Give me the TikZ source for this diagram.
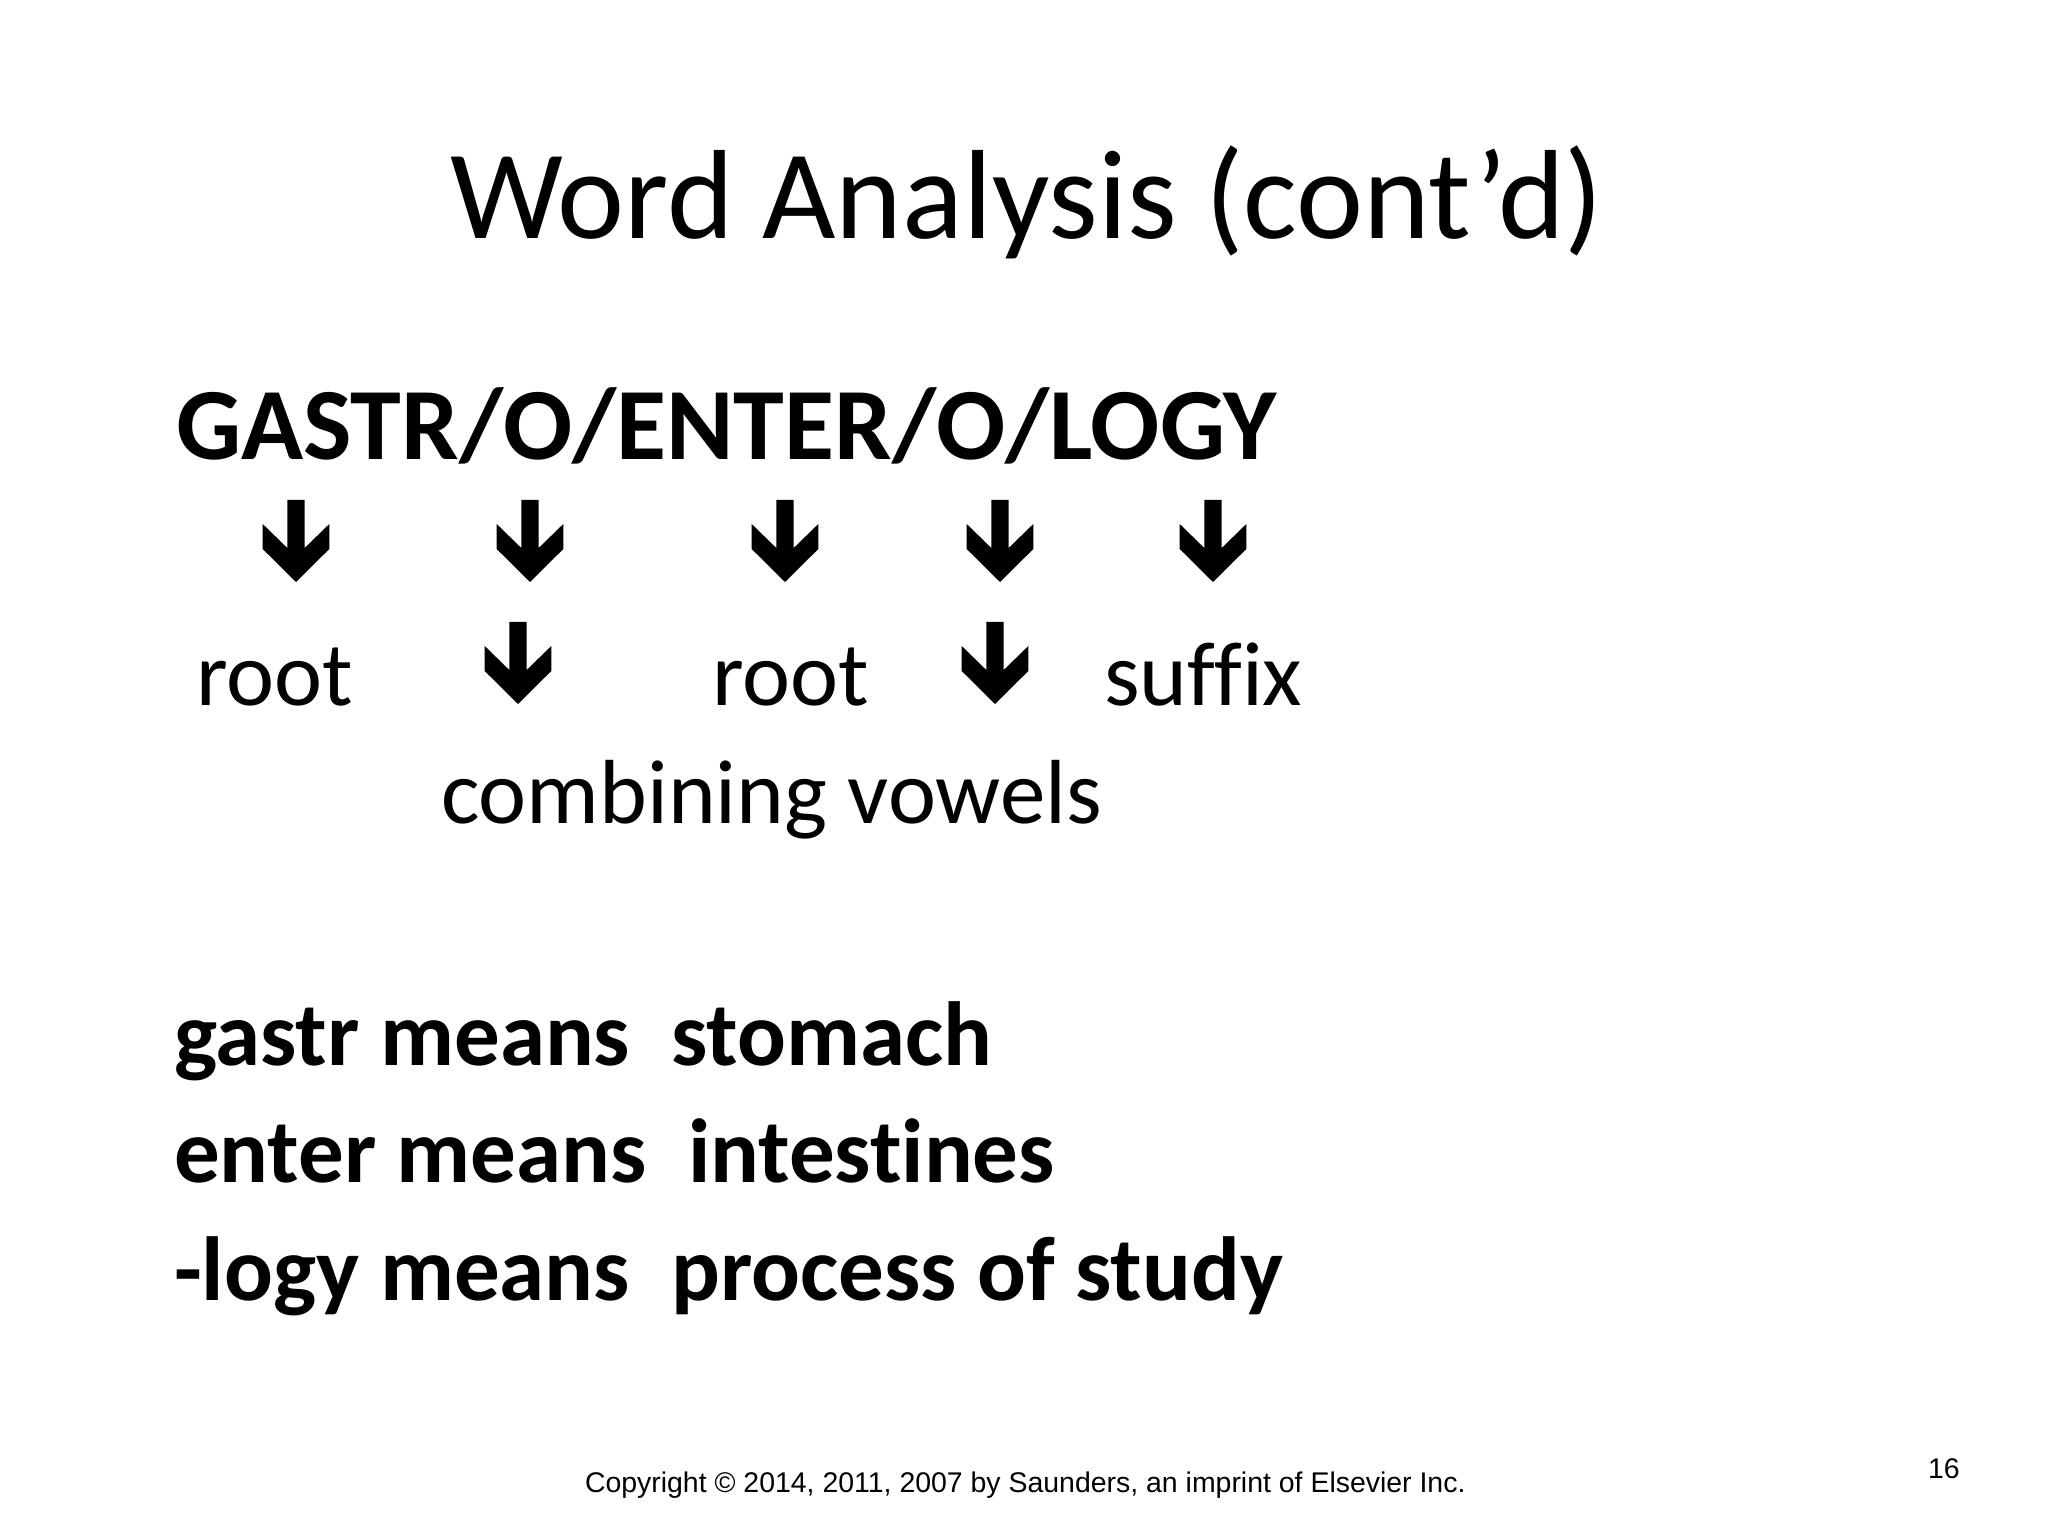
\documentclass[tikz,border=0pt]{standalone}
\usepackage{fontspec}
\setmainfont{Carlito}[Ligatures={NoCommon}]
\newfontfamily\arialfont{Liberation Sans}
\begin{document}
\begin{tikzpicture}[x=0.3515625pt,y=-0.3515625pt,
  txt/.style={anchor=base west,inner sep=0pt,outer sep=0pt},
  dnarrow/.pic={\fill[black] (-8.7,0) -- (-8.7,48) -- (-33.3,24) -- (-33.3,49) -- (0,82) -- (33.3,49) -- (33.3,24) -- (8.7,48) -- (8.7,0) -- cycle;}]
\useasboundingbox[fill=white] (0,0) rectangle (2048,1536);
\node[txt,font=\fontsize{44.6}{52}\selectfont] (title) at (450,239) {Word Analysis (cont’d)};
\node[txt,font=\fontsize{36}{43}\selectfont\bfseries] (word) at (176,460) {GASTR/O/ENTER/O/LOGY};
\pic at (296,500) {dnarrow};
\pic at (530,500) {dnarrow};
\pic at (785,500) {dnarrow};
\pic at (1000,500) {dnarrow};
\pic at (1213,500) {dnarrow};
\pic at (518,622) {dnarrow};
\pic at (995,622) {dnarrow};
\node[txt,font=\fontsize{32}{38}\selectfont] (r1) at (196,705) {root};
\node[txt,font=\fontsize{32}{38}\selectfont] (r2) at (712,705) {root};
\node[txt,font=\fontsize{32}{38}\selectfont] (sf) at (1104,705) {suffix};
\node[txt,font=\fontsize{32}{38}\selectfont] (cv) at (441,823) {combining vowels};
\node[txt,font=\fontsize{32}{38}\selectfont\bfseries] (l1) at (174,1065) {gastr means\ \ stomach};
\node[txt,font=\fontsize{32}{38}\selectfont\bfseries] (l2) at (174,1182) {enter means\ \ intestines};
\node[txt,font=\fontsize{32}{38}\selectfont\bfseries] (l3) at (174,1300) {-logy means\ \ process of study};
\node[txt,font=\fontsize{10}{12}\selectfont\arialfont] (cp) at (585,1492) {Copyright © 2014, 2011, 2007 by Saunders, an imprint of Elsevier Inc.};
\node[txt,font=\fontsize{10}{12}\selectfont\arialfont] (pg) at (1928,1478) {16};
\end{tikzpicture}
\end{document}
